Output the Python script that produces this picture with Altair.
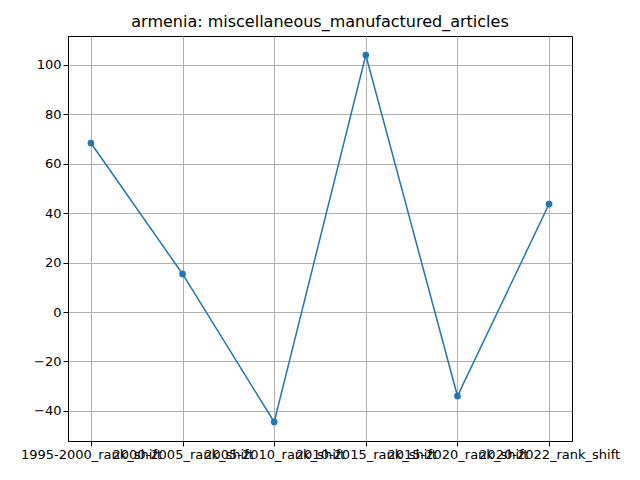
import altair as alt
import pandas as pd

labels = ["1995-2000_rank_shift", "2000-2005_rank_shift", "2005-2010_rank_shift",
          "2010-2015_rank_shift", "2015-2020_rank_shift", "2020-2022_rank_shift"]
values = [68.4, 15.4, -44.5, 104.0, -34.0, 43.7]

df = pd.DataFrame({"i": list(range(len(labels))), "label": labels, "v": values})
expr = "[" + ",".join(f"'{l}'" for l in labels) + "][datum.value]"

x = alt.X("i:Q", scale=alt.Scale(domain=[-0.25, 5.25], nice=False, zero=False),
          axis=alt.Axis(values=list(range(6)), labelExpr=expr, title=None, labelAngle=0,
                        grid=True, labelOverlap=False, labelFontSize=13, labelColor="black",
                        tickColor="black", tickSize=5, domainColor="black", gridColor="#b0b0b0"))
y = alt.Y("v:Q", scale=alt.Scale(domain=[-52.2, 111.7], nice=False, zero=False),
          axis=alt.Axis(values=[-40, -20, 0, 20, 40, 60, 80, 100], title=None, grid=True,
                        labelFontSize=13, labelColor="black", tickColor="black", tickSize=5,
                        domainColor="black", gridColor="#b0b0b0"))

base = alt.Chart(df).encode(x=x, y=y)
chart = (base.mark_line(color="#1f77b4", strokeWidth=1.5) +
         base.mark_circle(color="#1f77b4", size=45, opacity=1)).properties(
    width=504, height=405,
    title=alt.TitleParams("armenia: miscellaneous_manufactured_articles", fontSize=16,
                          fontWeight="normal", font="DejaVu Sans", color="black", offset=6),
    autosize=alt.AutoSizeParams(type="none"),
    padding={"left": 60, "top": 28, "right": 60, "bottom": 31},
).configure_axis(labelFont="DejaVu Sans").configure_view(stroke="black")

chart.save("out.html", embed_options={"renderer": "svg", "actions": False})
